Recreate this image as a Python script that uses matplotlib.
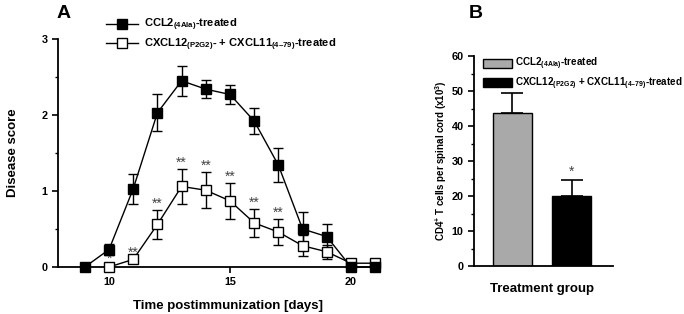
import matplotlib
matplotlib.use("Agg")
import matplotlib.pyplot as plt
from matplotlib.patches import Patch
from matplotlib.ticker import MultipleLocator

plt.rcParams['font.family'] = ['Liberation Sans', 'DejaVu Sans']
plt.rcParams['font.weight'] = 'bold'
plt.rcParams['mathtext.fontset'] = 'custom'
plt.rcParams['mathtext.rm'] = 'Liberation Sans:bold'
plt.rcParams['mathtext.bf'] = 'Liberation Sans:bold'
plt.rcParams['mathtext.default'] = 'bf'

### panel A : disease score over time
days = [9, 10, 11, 12, 13, 14, 15, 16, 17, 18, 19, 20, 21]
ccl2_score = [0.0, 0.23, 1.03, 2.03, 2.45, 2.34, 2.27, 1.92, 1.34, 0.50, 0.40, 0.0, 0.0]
ccl2_err = [0.0, 0.07, 0.20, 0.24, 0.20, 0.12, 0.12, 0.17, 0.22, 0.23, 0.16, 0.0, 0.0]
cxcl_score = [None, 0.0, 0.10, 0.56, 1.06, 1.01, 0.87, 0.58, 0.46, 0.28, 0.20, 0.05, 0.05]
cxcl_err = [None, 0.03, 0.0, 0.19, 0.23, 0.24, 0.24, 0.18, 0.17, 0.14, 0.09, 0.0, 0.0]
stars_a = ['', '*', '**', '**', '**', '**', '**', '**', '**', '', '', '', '']

### panel B : CD4+ T cells
groups = ['CCL2', 'CXCL12 + CXCL11']
cells = [43.7, 20.0]
cells_err = [5.8, 4.5]
stars_b = ['', '*']

label_ccl2 = r'CCL2$_{(4Ala)}$-treated'
label_cxcl_a = r'CXCL12$_{(P2G2)}$- + CXCL11$_{(4–79)}$-treated'
label_cxcl_b = r'CXCL12$_{(P2G2)}$ + CXCL11$_{(4–79)}$-treated'

fig = plt.figure(figsize=(6.84, 3.14), dpi=100)
ax1 = fig.add_axes([58/684, 47/314, 322/684, 228/314])
ax2 = fig.add_axes([474/684, 48/314, 139/684, 210/314])

def style(ax):
    for s in ['top', 'right']:
        ax.spines[s].set_visible(False)
    for s in ['left', 'bottom']:
        ax.spines[s].set_linewidth(1.3)
    ax.tick_params(which='major', direction='out', length=4, width=1.2, labelsize=7.8)
    ax.tick_params(which='minor', direction='out', length=2.5, width=1.0)

# filled series
d1 = days
ax1.errorbar(d1, ccl2_score, yerr=ccl2_err, fmt='none', ecolor='black',
             elinewidth=1.0, capsize=3.6, capthick=1.0, clip_on=False, zorder=2)
h1, = ax1.plot(d1, ccl2_score, color='black', lw=1.0, marker='s', ms=7,
               mfc='black', mec='black', clip_on=False, zorder=4)

# open series (starts at day 10)
d2 = [d for d, v in zip(days, cxcl_score) if v is not None]
v2 = [v for v in cxcl_score if v is not None]
e2 = [e for e in cxcl_err if e is not None]
ax1.errorbar(d2, v2, yerr=e2, fmt='none', ecolor='black',
             elinewidth=1.0, capsize=3.6, capthick=1.0, clip_on=False, zorder=2)
h2, = ax1.plot(d2, v2, color='black', lw=1.0, marker='s', ms=7,
               mfc='white', mec='black', mew=1.0, clip_on=False, zorder=3)

for d, v, e, s in zip(days, cxcl_score, cxcl_err, stars_a):
    if s and v is not None:
        ax1.text(d, v + e - 0.01, s, ha='center', va='bottom',
                 fontsize=10, color='#444444', fontweight='normal')

ax1.set_xlim(7.89, 21.2)
ax1.set_ylim(0, 3)
ax1.set_xticks([10, 15, 20])
ax1.set_yticks([0, 1, 2, 3])
ax1.yaxis.set_minor_locator(MultipleLocator(0.5))
style(ax1)
ax1.set_xlabel('Time postimmunization [days]', fontsize=9.5, fontweight='bold')
ax1.xaxis.set_label_coords(0.528, -0.145)
ax1.set_ylabel('Disease score', fontsize=9.5, fontweight='bold')
ax1.yaxis.set_label_coords(-0.12, 0.5)

ax1.legend([h1, h2], [label_ccl2, label_cxcl_a], loc='upper left',
           bbox_to_anchor=(106/684, 1 - 17/314), bbox_transform=fig.transFigure,
           frameon=False, fontsize=8, handlelength=2.9, handletextpad=0.5,
           labelspacing=0.28, borderpad=0, borderaxespad=0)

# panel B
xpos = range(len(groups))
ax2.bar(xpos, cells, width=0.655, color=['#a9a9a9', 'black'], edgecolor='black',
        linewidth=1.0, zorder=2)
ax2.errorbar(xpos, cells, yerr=[[0, 0], cells_err], fmt='none', ecolor='black',
             elinewidth=1.2, capsize=8, capthick=1.2, zorder=1)
for x, c, e, s in zip(xpos, cells, cells_err, stars_b):
    if s:
        ax2.text(x, c + e + 0.5, s, ha='center', va='bottom', fontsize=10,
                 color='#444444', fontweight='normal')
ax2.set_xlim(-0.647, 1.69)
ax2.set_ylim(0, 60)
ax2.set_xticks([])
ax2.set_yticks(range(0, 61, 10))
ax2.yaxis.set_minor_locator(MultipleLocator(5))
style(ax2)
ax2.set_xlabel('Treatment group', fontsize=9.5, fontweight='bold')
ax2.xaxis.set_label_coords(0.49, -0.08)
ax2.set_ylabel(r'CD4$^{+}$ T cells per spinal cord (x10$^{3}$)', fontsize=7, fontweight='bold')
ax2.yaxis.set_label_coords(-0.18, 0.5)

ax2.legend([Patch(facecolor='#a9a9a9', edgecolor='black'), Patch(facecolor='black', edgecolor='black')],
           [label_ccl2, label_cxcl_b], loc='upper left',
           bbox_to_anchor=(483/684, 1 - 56/314), bbox_transform=fig.transFigure,
           frameon=False, fontsize=7.1, handlelength=2.9, handleheight=1.0,
           handletextpad=0.3, labelspacing=0.3, borderpad=0, borderaxespad=0)

fig.text(64/684, 1 - 13/314, 'A', fontsize=14, fontweight='bold', ha='center', va='center')
fig.text(476/684, 1 - 13/314, 'B', fontsize=14, fontweight='bold', ha='center', va='center')

fig.savefig('out.png', dpi=100)
